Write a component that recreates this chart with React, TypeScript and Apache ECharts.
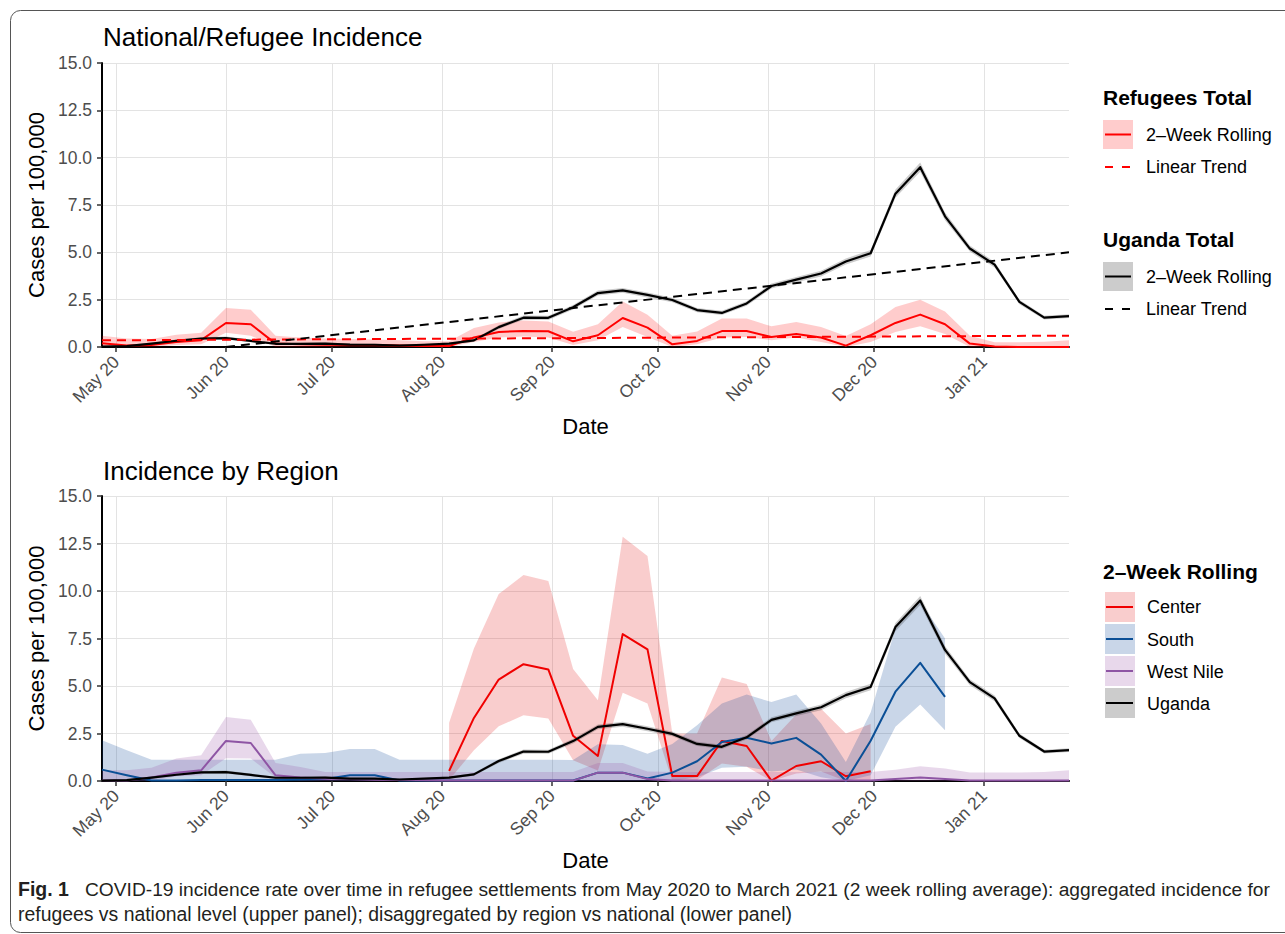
import React, { useEffect, useRef } from 'react';
import * as echarts from 'echarts';

// ---------------- DATA ----------------
const weeks = [
  '2020-04-27', '2020-05-04', '2020-05-11', '2020-05-18', '2020-05-25',
  '2020-06-01', '2020-06-08', '2020-06-15', '2020-06-22', '2020-06-29',
  '2020-07-06', '2020-07-13', '2020-07-20', '2020-07-27', '2020-08-03',
  '2020-08-10', '2020-08-17', '2020-08-24', '2020-08-31', '2020-09-07',
  '2020-09-14', '2020-09-21', '2020-09-28', '2020-10-05', '2020-10-12',
  '2020-10-19', '2020-10-26', '2020-11-02', '2020-11-09', '2020-11-16',
  '2020-11-23', '2020-11-30', '2020-12-07', '2020-12-14', '2020-12-21',
  '2020-12-28', '2021-01-04', '2021-01-11', '2021-01-18', '2021-01-25',
];

const monthTicks = [
  '2020-05-01', '2020-06-01', '2020-07-01', '2020-08-01', '2020-09-01',
  '2020-10-01', '2020-11-01', '2020-12-01', '2021-01-01',
];
const monthNames = ['Jan', 'Feb', 'Mar', 'Apr', 'May', 'Jun', 'Jul', 'Aug', 'Sep', 'Oct', 'Nov', 'Dec'];

// Uganda total (national), 2-week rolling
const ugandaRolling = [0.02, 0.05, 0.18, 0.33, 0.45, 0.47, 0.32, 0.17, 0.17, 0.18, 0.13, 0.12, 0.08, 0.12, 0.18, 0.35, 1.05, 1.55, 1.54, 2.1, 2.85, 2.99, 2.75, 2.48, 1.95, 1.8, 2.3, 3.22, 3.56, 3.88, 4.52, 4.95, 8.1, 9.5, 6.9, 5.2, 4.35, 2.38, 1.55, 1.63];
const ugandaLower = [0.0, 0.01, 0.12, 0.26, 0.38, 0.4, 0.25, 0.11, 0.11, 0.12, 0.08, 0.07, 0.04, 0.07, 0.12, 0.28, 0.95, 1.44, 1.43, 1.98, 2.72, 2.86, 2.62, 2.36, 1.84, 1.69, 2.18, 3.09, 3.42, 3.73, 4.36, 4.78, 7.88, 9.26, 6.7, 5.04, 4.2, 2.26, 1.45, 1.53];
const ugandaUpper = [0.06, 0.1, 0.24, 0.4, 0.52, 0.55, 0.39, 0.23, 0.23, 0.24, 0.18, 0.17, 0.13, 0.17, 0.24, 0.42, 1.15, 1.66, 1.65, 2.22, 2.98, 3.12, 2.88, 2.6, 2.06, 1.91, 2.42, 3.35, 3.7, 4.03, 4.68, 5.12, 8.32, 9.74, 7.1, 5.36, 4.5, 2.5, 1.65, 1.73];

// Refugees total, 2-week rolling
const refugeeRolling = [0.2, 0.08, 0.1, 0.26, 0.36, 1.27, 1.2, 0.18, 0.15, 0.12, 0.1, 0.1, 0.08, 0.05, 0.05, 0.5, 0.79, 0.85, 0.83, 0.3, 0.62, 1.53, 1.02, 0.14, 0.32, 0.84, 0.84, 0.53, 0.69, 0.5, 0.07, 0.62, 1.27, 1.71, 1.2, 0.18, 0.03, 0.0, 0.0, 0.0];
const refugeeLower = [0, 0, 0, 0.1, 0.15, 0.75, 0.6, 0, 0, 0, 0, 0, 0, 0, 0, 0.27, 0.5, 0.55, 0.5, 0.1, 0.35, 1.05, 0.53, 0, 0.15, 0.5, 0.53, 0.35, 0.5, 0.27, 0, 0.27, 0.79, 1.09, 0.69, 0, 0, 0, 0, 0];
const refugeeUpper = [0.6, 0.45, 0.42, 0.65, 0.75, 2.06, 1.97, 0.6, 0.5, 0.45, 0.42, 0.4, 0.35, 0.3, 0.3, 1.0, 1.3, 1.4, 1.35, 0.8, 1.2, 2.4, 1.7, 0.6, 0.82, 1.5, 1.5, 1.09, 1.32, 1.06, 0.58, 1.2, 2.11, 2.5, 1.88, 0.6, 0.25, 0.25, 0.28, 0.35];

// Linear trends (start / end)
const refugeeTrendDates = ['2020-04-27', '2021-01-25'];
const refugeeTrend = [0.35, 0.6];
const ugandaTrendDates = ['2020-06-01', '2021-01-25'];
const ugandaTrend = [0.0, 5.0];

// Regions
const N = null;
const centerRolling = [N, N, N, N, N, N, N, N, N, N, N, N, N, N, 0.53, 3.32, 5.34, 6.15, 5.87, 2.38, 1.32, 7.73, 6.93, 0.26, 0.26, 2.11, 1.84, 0.02, 0.79, 1.04, 0.25, 0.51, N, N, N, N, N, N, N, N];
const centerLower = [N, N, N, N, N, N, N, N, N, N, N, N, N, N, 0.05, 1.62, 2.88, 3.46, 3.29, 1.09, 0.55, 4.64, 4.08, 0.0, 0.05, 0.92, 0.75, 0.0, 0.4, 0.5, 0.0, 0.0, N, N, N, N, N, N, N, N];
const centerUpper = [N, N, N, N, N, N, N, N, N, N, N, N, N, N, 3.06, 6.97, 9.84, 10.84, 10.52, 5.9, 4.25, 12.86, 11.84, 2.5, 2.5, 5.45, 5.1, 2.1, 3.5, 3.8, 2.5, 3.0, N, N, N, N, N, N, N, N];

const southRolling = [0.6, 0.3, 0.03, 0.03, 0.05, 0.05, 0.05, 0.05, 0.08, 0.1, 0.3, 0.3, 0.03, 0.03, 0.03, 0.03, 0.03, 0.03, 0.03, 0.03, 0.44, 0.44, 0.13, 0.44, 1.04, 2.05, 2.28, 1.97, 2.27, 1.39, 0.0, 2.12, 4.7, 6.22, 4.43, N, N, N, N, N];
const southLower = [0, 0, 0, 0, 0, 0, 0, 0, 0, 0, 0, 0, 0, 0, 0, 0, 0, 0, 0, 0, 0, 0, 0, 0, 0.2, 0.7, 0.75, 0.5, 0.6, 0.2, 0.0, 0.3, 2.85, 4.02, 2.67, N, N, N, N, N];
const southUpper = [2.14, 1.62, 1.12, 1.12, 1.12, 1.12, 1.12, 1.12, 1.44, 1.47, 1.69, 1.69, 1.12, 1.12, 1.12, 1.12, 1.12, 1.12, 1.12, 1.1, 1.93, 1.9, 1.44, 1.95, 2.93, 4.08, 4.55, 4.16, 4.55, 3.02, 1.0, 3.6, 8.03, 9.43, 7.5, N, N, N, N, N];

const westNileRolling = [0.02, 0.02, 0.18, 0.44, 0.56, 2.11, 2.0, 0.3, 0.18, 0.12, 0.1, 0.06, 0.05, 0.04, 0.03, 0.02, 0.02, 0.02, 0.02, 0.02, 0.44, 0.44, 0.1, 0.02, 0.02, 0.02, 0.02, 0.02, 0.02, 0.02, 0.02, 0.02, 0.1, 0.18, 0.1, 0.02, 0.02, 0.02, 0.02, 0.02];
const westNileLower = [0, 0, 0, 0.25, 0.3, 1.2, 1.18, 0.18, 0, 0, 0, 0, 0, 0, 0, 0, 0, 0, 0, 0, 0, 0, 0, 0, 0, 0, 0, 0, 0, 0, 0, 0, 0, 0, 0, 0, 0, 0, 0, 0];
const westNileUpper = [0.56, 0.56, 0.7, 1.18, 1.35, 3.37, 3.23, 0.95, 0.74, 0.48, 0.48, 0.48, 0.48, 0.48, 0.48, 0.48, 0.48, 0.48, 0.48, 0.48, 0.95, 0.95, 0.5, 0.48, 0.48, 0.48, 0.48, 0.48, 0.48, 0.48, 0.48, 0.47, 0.59, 0.77, 0.66, 0.45, 0.45, 0.45, 0.48, 0.56];

const yTicks = [0, 2.5, 5, 7.5, 10, 12.5, 15];

// ---------------- STYLE ----------------
const FONT = "'Liberation Sans', Arial, Helvetica, sans-serif";
const RED = '#FF0000';
const RED_BAND = 'rgba(255,0,0,0.2)';
const GREY_BAND = 'rgba(0,0,0,0.2)';
const C_RED = '#F00000';
const C_RED_BAND = 'rgba(228,26,28,0.22)';
const S_BLUE = '#0B4F96';
const S_BAND = 'rgba(8,69,148,0.22)';
const W_PURPLE = '#8E55A4';
const W_BAND = 'rgba(152,78,163,0.22)';
const GRID_COLOR = '#e3e3e3';

const toTs = (s: string) => {
  const [y, m, d] = s.split('-').map(Number);
  return Date.UTC(y, m - 1, d);
};
const fmtMonth = (v: number) => {
  const d = new Date(v);
  return `${monthNames[d.getUTCMonth()]} ${String(d.getUTCFullYear() % 100).padStart(2, '0')}`;
};

function lineSeries(gi: number, vals: (number | null)[], color: string, width: number, z: number) {
  const data = weeks
    .map((w, i) => [toTs(w), vals[i]])
    .filter((p) => p[1] != null);
  return {
    type: 'line', xAxisIndex: gi, yAxisIndex: gi, data, showSymbol: false, symbol: 'none',
    lineStyle: { color, width, join: 'round' }, z, silent: true, clip: true,
  };
}

function trendSeries(gi: number, dates: string[], vals: number[], color: string, z: number) {
  return {
    type: 'line', xAxisIndex: gi, yAxisIndex: gi, showSymbol: false, symbol: 'none', silent: true,
    data: dates.map((d, i) => [toTs(d), vals[i]]),
    lineStyle: { color, width: 2, type: [9, 6] }, z,
  };
}

function bandSeries(gi: number, lower: (number | null)[], upper: (number | null)[], color: string, z: number) {
  const idx = weeks.map((_, i) => i).filter((i) => lower[i] != null && upper[i] != null);
  return {
    type: 'custom', xAxisIndex: gi, yAxisIndex: gi, z, silent: true, clip: true,
    data: idx.map((i) => [toTs(weeks[i]), lower[i], upper[i]]),
    encode: { x: 0, y: [1, 2] },
    renderItem: (params: any, api: any) => {
      if (params.dataIndex !== 0) return null;
      const top = idx.map((i) => api.coord([toTs(weeks[i]), upper[i]]));
      const bot = idx.slice().reverse().map((i) => api.coord([toTs(weeks[i]), lower[i]]));
      return { type: 'polygon', shape: { points: top.concat(bot) }, style: { fill: color } };
    },
  };
}

const tickTs = monthTicks.map(toTs);

function xAxis(gi: number) {
  return {
    type: 'value', gridIndex: gi, min: toTs(weeks[0]), max: toTs(weeks[weeks.length - 1]),
    axisLine: { show: true, onZero: false, lineStyle: { color: '#000', width: 2 } },
    axisTick: { show: true, length: 5, lineStyle: { color: '#333', width: 1.5 }, customValues: tickTs },
    axisLabel: {
      customValues: tickTs, rotate: 45, margin: 12, align: 'right', verticalAlign: 'middle',
      padding: [14, 0, 0, 0],
      color: '#4d4d4d', fontSize: 17.5, fontFamily: FONT, formatter: (v: number) => fmtMonth(v),
    },
    splitLine: { show: true, lineStyle: { color: GRID_COLOR, width: 1 } },
    name: 'Date', nameLocation: 'middle', nameGap: 68,
    nameTextStyle: { color: '#000', fontSize: 22, fontFamily: FONT },
  };
}

function yAxis(gi: number) {
  return {
    type: 'value', gridIndex: gi, min: yTicks[0], max: yTicks[yTicks.length - 1], interval: 2.5,
    axisLine: { show: true, lineStyle: { color: '#000', width: 2 } },
    axisTick: { show: true, length: 5, lineStyle: { color: '#333', width: 1.5 } },
    axisLabel: {
      margin: 10, color: '#4d4d4d', fontSize: 17.5, fontFamily: FONT,
      formatter: (v: number) => v.toFixed(1),
    },
    splitLine: { show: true, lineStyle: { color: GRID_COLOR, width: 1 } },
    name: 'Cases per 100,000', nameLocation: 'middle', nameGap: 53,
    nameTextStyle: { color: '#000', fontSize: 22, fontFamily: FONT },
  };
}

// legend helpers (graphic)
const txt = (x: number, y: number, text: string, size: number, bold = false, color = '#000') => ({
  type: 'text', silent: true,
  style: { x, y, text, fill: color, fontSize: size, fontFamily: FONT, fontWeight: bold ? 'bold' : 'normal', verticalAlign: 'middle', align: 'left' },
});
const keyBox = (x: number, y: number, w: number, h: number, fill: string) => ({
  type: 'rect', silent: true, shape: { x, y, width: w, height: h }, style: { fill },
});
const keyLine = (x1: number, x2: number, y: number, color: string, dash?: number[]) => ({
  type: 'line', silent: true, shape: { x1, y1: y, x2, y2: y },
  style: { stroke: color, lineWidth: 2, lineDash: dash || null },
});

export default function App() {
  const ref = useRef<HTMLDivElement>(null);
  useEffect(() => {
    if (!ref.current) return;
    const chart = echarts.init(ref.current, undefined, { renderer: 'svg' });
    const option: any = {
      animation: false,
      backgroundColor: '#fff',
      grid: [
        { left: 102, top: 63, width: 967, height: 284 },
        { left: 102, top: 496, width: 967, height: 285 },
      ],
      xAxis: [xAxis(0), xAxis(1)],
      yAxis: [yAxis(0), yAxis(1)],
      series: [
        bandSeries(0, refugeeLower, refugeeUpper, RED_BAND, 1),
        bandSeries(0, ugandaLower, ugandaUpper, GREY_BAND, 1),
        lineSeries(0, refugeeRolling, RED, 2, 3),
        lineSeries(0, ugandaRolling, '#000', 2.2, 4),
        trendSeries(0, refugeeTrendDates, refugeeTrend, RED, 5),
        trendSeries(0, ugandaTrendDates, ugandaTrend, '#000', 5),

        bandSeries(1, centerLower, centerUpper, C_RED_BAND, 1),
        bandSeries(1, southLower, southUpper, S_BAND, 1),
        bandSeries(1, westNileLower, westNileUpper, W_BAND, 1),
        bandSeries(1, ugandaLower, ugandaUpper, GREY_BAND, 1),
        lineSeries(1, centerRolling, C_RED, 2, 3),
        lineSeries(1, southRolling, S_BLUE, 2, 3),
        lineSeries(1, westNileRolling, W_PURPLE, 2, 3),
        lineSeries(1, ugandaRolling, '#000', 2.2, 4),
      ],
      graphic: [
        {
          type: 'rect', silent: true, z: 0,
          shape: { x: 10.5, y: 10.5, width: 1300, height: 922, r: 10 },
          style: { fill: 'none', stroke: '#555', lineWidth: 1 },
        },
        txt(103, 37, 'National/Refugee Incidence', 26),
        txt(103, 470.5, 'Incidence by Region', 26),

        // top legend
        txt(1103, 97, 'Refugees Total', 21, true),
        keyBox(1103, 120, 30, 29, RED_BAND),
        keyLine(1105, 1131, 134.5, RED),
        txt(1146, 135, '2–Week Rolling', 18),
        keyLine(1105, 1131, 167, RED, [8, 9]),
        txt(1146, 167, 'Linear Trend', 18),

        txt(1103, 239, 'Uganda Total', 21, true),
        keyBox(1103, 262, 30, 29, GREY_BAND),
        keyLine(1105, 1131, 276.5, '#000'),
        txt(1146, 277, '2–Week Rolling', 18),
        keyLine(1105, 1131, 309, '#000', [8, 9]),
        txt(1146, 309, 'Linear Trend', 18),

        // bottom legend
        txt(1103, 571, '2–Week Rolling', 21, true),
        keyBox(1105, 592, 30, 30, C_RED_BAND),
        keyLine(1106, 1133, 607, C_RED),
        txt(1147, 607, 'Center', 18),
        keyBox(1105, 624, 30, 30, S_BAND),
        keyLine(1106, 1133, 639, S_BLUE),
        txt(1147, 639.5, 'South', 18),
        keyBox(1105, 656, 30, 30, W_BAND),
        keyLine(1106, 1133, 671, W_PURPLE),
        txt(1147, 671.5, 'West Nile', 18),
        keyBox(1105, 688, 30, 30, GREY_BAND),
        keyLine(1106, 1133, 703, '#000'),
        txt(1147, 703.5, 'Uganda', 18),

        // caption
        txt(18, 889, 'Fig. 1', 19.5, true, '#231F20'),
        txt(85, 889, 'COVID-19 incidence rate over time in refugee settlements from May 2020 to March 2021 (2 week rolling average): aggregated incidence for', 19.2, false, '#231F20'),
        txt(18, 914, 'refugees vs national level (upper panel); disaggregated by region vs national (lower panel)', 19.4, false, '#231F20'),
      ],
    };
    chart.setOption(option);
    return () => chart.dispose();
  }, []);
  return (
    <div
      ref={ref}
      style={{ position: 'absolute', left: 0, top: 0, width: 1285, height: 934, background: '#fff' }}
    />
  );
}
